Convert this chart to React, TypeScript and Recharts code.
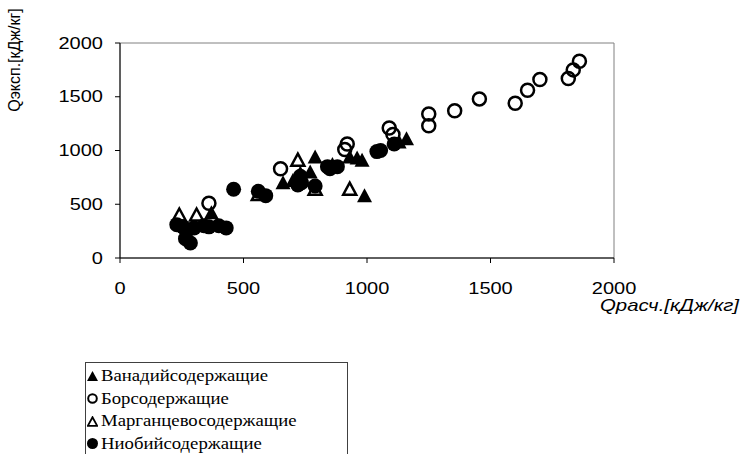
import React from 'react';
import {
  ScatterChart,
  Scatter,
  XAxis,
  YAxis,
  ReferenceArea,
  Legend,
} from 'recharts';

// [Qрасч, Qэксп] pairs, kJ/kg
const vanadium: [number, number][] = [
  [370, 420], [660, 700], [700, 720], [730, 790], [770, 800], [790, 940],
  [860, 870], [930, 940], [960, 930], [980, 910], [990, 580], [1130, 1080],
  [1160, 1110],
];

const boron: [number, number][] = [
  [360, 510], [650, 830], [910, 1010], [920, 1060], [1090, 1210], [1105, 1150],
  [1250, 1340], [1250, 1230], [1355, 1370], [1455, 1480], [1600, 1440],
  [1650, 1560], [1700, 1660], [1815, 1670], [1835, 1750], [1860, 1830],
];

const manganese: [number, number][] = [
  [240, 400], [310, 400], [560, 590], [720, 910], [790, 640], [930, 640],
];

const niobium: [number, number][] = [
  [230, 310], [255, 290], [270, 250], [265, 180], [285, 140], [300, 280],
  [340, 300], [360, 290], [400, 300], [430, 280], [460, 640], [560, 620],
  [590, 580], [720, 680], [735, 700], [730, 760], [790, 670], [840, 850],
  [850, 830], [880, 850], [1040, 990], [1055, 1000], [1110, 1060],
];

const ticks = [0, 500, 1000, 1500, 2000];

const seriesNames = [
  'Ванадийсодержащие',
  'Борсодержащие',
  'Марганцевосодержащие',
  'Ниобийсодержащие',
];

const toPoints = (arr: [number, number][]) => arr.map(([x, y]) => ({ x, y }));

const SANS = '"Liberation Sans", Arial, sans-serif';
const SERIF = '"Liberation Serif", "DejaVu Serif", "Times New Roman", serif';

const FilledTriangle = (p: any) => (
  <path
    d={`M${p.cx},${p.cy - 7.5} L${p.cx + 7.5},${p.cy + 6.5} L${p.cx - 7.5},${p.cy + 6.5} Z`}
    fill="#000"
  />
);

const OpenTriangle = (p: any) => (
  <path
    d={`M${p.cx},${p.cy - 6.5} L${p.cx + 6.5},${p.cy + 5.5} L${p.cx - 6.5},${p.cy + 5.5} Z`}
    fill="none"
    stroke="#000"
    strokeWidth={2.5}
  />
);

const OpenCircle = (p: any) => (
  <circle cx={p.cx} cy={p.cy} r={6.5} fill="none" stroke="#000" strokeWidth={2.5} />
);

const FilledCircle = (p: any) => <circle cx={p.cx} cy={p.cy} r={7.5} fill="#000" />;

const XTick = ({ x, y, payload }: any) => (
  <g transform={`translate(${x},${y})`}>
    <text
      x={0}
      y={0}
      dy="0.71em"
      textAnchor="middle"
      transform="scale(1.25,1)"
      fontFamily={SANS}
      fontSize={16}
      fill="#000"
    >
      {payload.value}
    </text>
  </g>
);

const YTick = ({ x, y, payload }: any) => (
  <g transform={`translate(${x},${y})`}>
    <text
      x={0}
      y={0}
      dy="0.355em"
      textAnchor="end"
      transform="scale(1.25,1)"
      fontFamily={SANS}
      fontSize={16}
      fill="#000"
    >
      {payload.value}
    </text>
  </g>
);

const legendMarkers = [
  <path d="M5.5,0 L11,10 L0,10 Z" fill="#000" />,
  <circle cx={5.5} cy={5.5} r={4.3} fill="none" stroke="#000" strokeWidth={2} />,
  <path d="M5.5,1.2 L10.2,9.8 L0.8,9.8 Z" fill="none" stroke="#000" strokeWidth={1.8} />,
  <circle cx={5.5} cy={5.5} r={5.5} fill="#000" />,
];

const LegendBox = () => (
  <div
    style={{
      position: 'absolute',
      left: 85,
      top: 362,
      width: 263,
      height: 110,
      border: '1px solid #404040',
      background: '#fff',
      boxSizing: 'border-box',
    }}
  >
    {seriesNames.map((name, i) => (
      <div
        key={name}
        style={{
          position: 'absolute',
          left: 1,
          top: 3 + i * 22.6,
          height: 20,
          display: 'flex',
          alignItems: 'center',
          whiteSpace: 'nowrap',
        }}
      >
        <svg width={11} height={11} style={{ marginRight: 3 }}>
          {legendMarkers[i]}
        </svg>
        <span
          style={{
            fontFamily: SERIF,
            fontSize: 16,
            lineHeight: 1,
            display: 'inline-block',
            transform: 'scaleX(1.17)',
            transformOrigin: 'left center',
          }}
        >
          {name}
        </span>
      </div>
    ))}
  </div>
);

export default function App() {
  return (
    <div
      style={{
        position: 'absolute',
        left: 0,
        top: 0,
        width: 750,
        height: 454,
        overflow: 'hidden',
        background: '#fff',
      }}
    >
      <ScatterChart
        width={750}
        height={454}
        margin={{ top: 43, right: 136, left: 0, bottom: 156 }}
      >
        <ReferenceArea
          x1={0}
          x2={2000}
          y1={0}
          y2={2000}
          fill="none"
          stroke="#808080"
          strokeWidth={1}
        />
        <XAxis
          type="number"
          dataKey="x"
          domain={[0, 2000]}
          ticks={ticks}
          height={40}
          tickSize={5}
          tickMargin={20}
          axisLine={{ stroke: '#000' }}
          tickLine={{ stroke: '#000' }}
          tick={<XTick />}
        />
        <YAxis
          type="number"
          dataKey="y"
          domain={[0, 2000]}
          ticks={ticks}
          width={120}
          tickSize={5}
          tickMargin={12}
          axisLine={{ stroke: '#000' }}
          tickLine={{ stroke: '#000' }}
          tick={<YTick />}
        />
        <Scatter
          name={seriesNames[0]}
          data={toPoints(vanadium)}
          shape={FilledTriangle}
          isAnimationActive={false}
        />
        <Scatter
          name={seriesNames[1]}
          data={toPoints(boron)}
          shape={OpenCircle}
          isAnimationActive={false}
        />
        <Scatter
          name={seriesNames[2]}
          data={toPoints(manganese)}
          shape={OpenTriangle}
          isAnimationActive={false}
        />
        <Scatter
          name={seriesNames[3]}
          data={toPoints(niobium)}
          shape={FilledCircle}
          isAnimationActive={false}
        />
        <Legend content={() => null} />
      </ScatterChart>

      <div
        style={{
          position: 'absolute',
          left: 15,
          top: 60,
          transform: 'translate(-50%, -50%) rotate(-90deg)',
          fontFamily: SANS,
          fontSize: 16,
          whiteSpace: 'nowrap',
          lineHeight: 1,
        }}
      >
        Qэксп.[кДж/кг]
      </div>

      <div
        style={{
          position: 'absolute',
          left: 600,
          top: 297,
          fontFamily: SANS,
          fontSize: 17,
          fontStyle: 'italic',
          whiteSpace: 'nowrap',
          lineHeight: 1,
          transform: 'scaleX(1.2)',
          transformOrigin: 'left center',
        }}
      >
        Qрасч.[кДж/кг]
      </div>

      <LegendBox />
    </div>
  );
}
